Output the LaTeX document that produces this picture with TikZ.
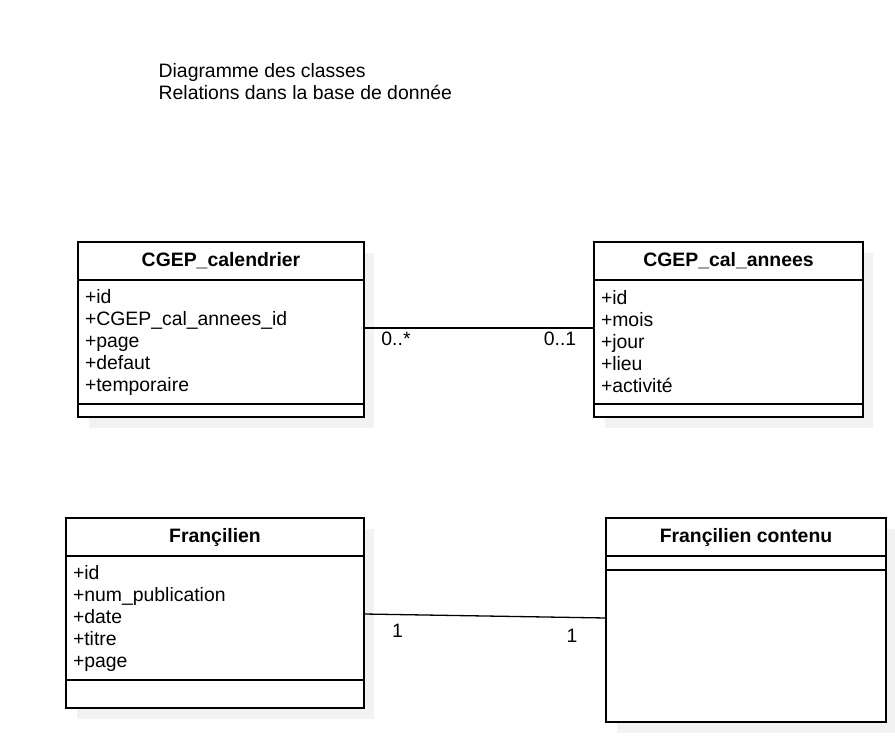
\documentclass[tikz,border=0pt]{standalone}
\usepackage{fontspec}
\setmainfont{Liberation Sans}
\usetikzlibrary{positioning,backgrounds}

\begin{document}
\begin{tikzpicture}[x=1pt, y=-1pt, line width=1.3pt,
    font=\fontsize{19.4}{22}\selectfont]
  \tikzstyle{classname}=[draw, fill=white, font=\fontsize{19.4}{22}\selectfont\bfseries,
    minimum height=38pt, inner sep=0pt, outer sep=0pt]
  \tikzstyle{attrs}=[draw, fill=white, align=left, inner xsep=7pt, inner ysep=0pt, outer sep=0pt]
  \tikzstyle{ops}=[draw, fill=white, inner sep=0pt, outer sep=0pt]
  \tikzstyle{shadow}=[fill=black!5]

  \useasboundingbox (0,0) rectangle (895,747);

  \node[anchor=north west, inner sep=0pt, align=left] (title) at (158,63)
    {Diagramme des classes\\Relations dans la base de donnée};

  % CGEP_calendrier
  \node[classname, minimum width=286pt, anchor=north west] (cal) at (78,242) {CGEP\_calendrier};
  \node[attrs, text width=272pt, minimum height=124pt, below=0pt of cal] (calattr)
    {+id\\+CGEP\_cal\_annees\_id\\+page\\+defaut\\+temporaire};
  \node[ops, minimum width=286pt, minimum height=13pt, below=0pt of calattr] (calops) {};

  % CGEP_cal_annees
  \node[classname, minimum width=269pt, anchor=north west] (ann) at (594,242) {CGEP\_cal\_annees};
  \node[attrs, text width=255pt, minimum height=124pt, below=0pt of ann] (annattr)
    {+id\\+mois\\+jour\\+lieu\\+activité};
  \node[ops, minimum width=269pt, minimum height=13pt, below=0pt of annattr] (annops) {};

  % Françilien
  \node[classname, minimum width=298pt, anchor=north west] (fra) at (66,518) {Françilien};
  \node[attrs, text width=284pt, minimum height=124pt, below=0pt of fra] (fraattr)
    {+id\\+num\_publication\\+date\\+titre\\+page};
  \node[ops, minimum width=298pt, minimum height=28pt, below=0pt of fraattr] (fraops) {};

  % Françilien contenu
  \node[classname, minimum width=280pt, anchor=north west] (con) at (606,518) {Françilien contenu};
  \node[ops, minimum width=280pt, minimum height=14pt, below=0pt of con] (conattr) {};
  \node[ops, minimum width=280pt, minimum height=152pt, below=0pt of conattr] (conops) {};

  \begin{scope}[on background layer]
    \fill[shadow] ([shift={(11,11)}]cal.north west) rectangle ([shift={(10,11)}]calops.south east);
    \fill[shadow] ([shift={(11,11)}]ann.north west) rectangle ([shift={(10,11)}]annops.south east);
    \fill[shadow] ([shift={(11,11)}]fra.north west) rectangle ([shift={(10,11)}]fraops.south east);
    \fill[shadow] ([shift={(11,11)}]con.north west) rectangle ([shift={(10,11)}]conops.south east);
  \end{scope}

  % associations
  \draw ([yshift=14pt]calattr.east) -- ([yshift=14pt]annattr.west);
  \draw ([yshift=4pt]fraattr.east) -- ([yshift=28pt]conops.west);

  \node (mcal) at (396,339) {0..*};
  \node (mann) at (560,339) {0..1};
  \node (mfra) at (397.5,631) {1};
  \node (mcon) at (572,636) {1};
\end{tikzpicture}
\end{document}
